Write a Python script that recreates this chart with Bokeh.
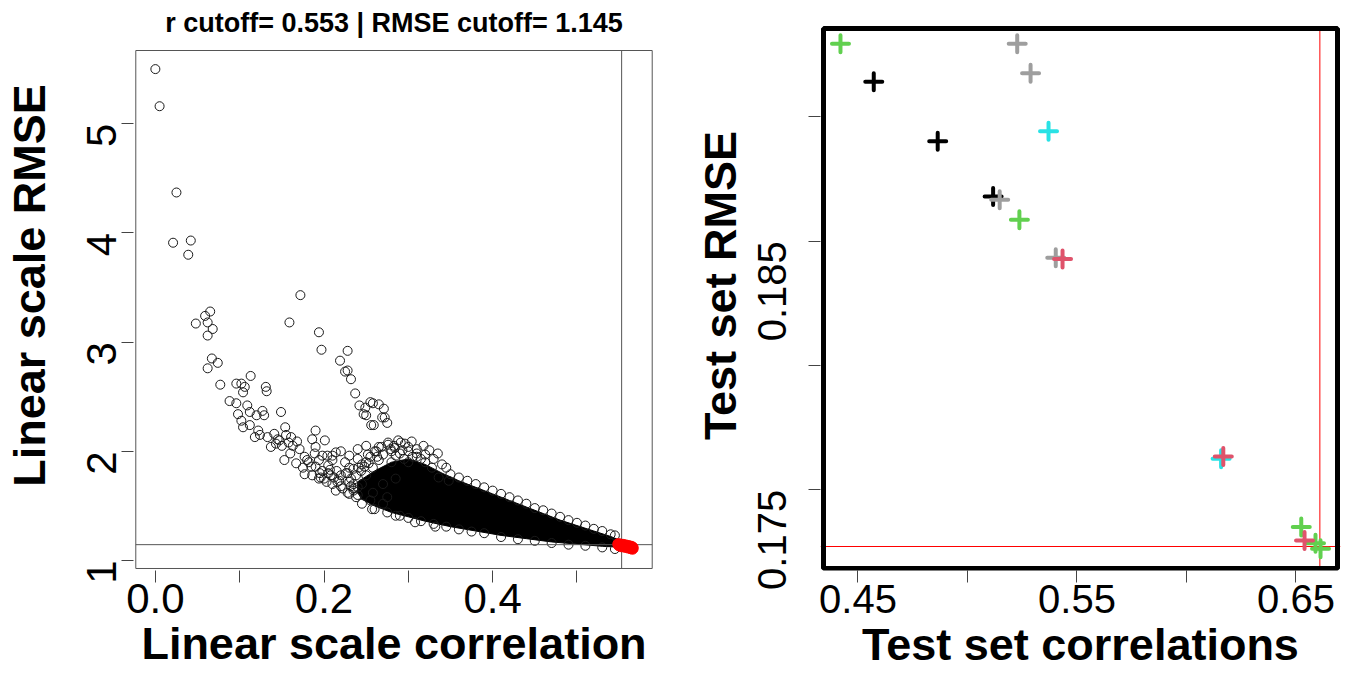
import math
from bokeh.plotting import figure
from bokeh.layouts import row
from bokeh.models import Range1d, FixedTicker, Label, BoxAnnotation
from bokeh.embed import file_html
from bokeh.resources import INLINE

FONT = "Liberation Sans"

# ---------------- Left panel data (linear scale) ----------------
title_text = "r cutoff= 0.553 | RMSE cutoff= 1.145"
r_cutoff = 0.553
rmse_cutoff = 1.145

# individually visible models (correlation, RMSE)
sparse_r = [0.000, 0.005, 0.025, 0.021, 0.042, 0.039,
            0.172, 0.159, 0.194, 0.197,
            0.065, 0.059, 0.048, 0.062, 0.068, 0.062,
            0.067, 0.062, 0.074, 0.077,
            0.228, 0.219, 0.228, 0.225, 0.232, 0.237, 0.242, 0.249, 0.258, 0.265,
            0.250, 0.259, 0.272, 0.275, 0.247, 0.255, 0.271, 0.269, 0.256,
            0.113, 0.096, 0.102, 0.106, 0.104, 0.131, 0.132, 0.088, 0.096, 0.109,
            0.112, 0.098, 0.120, 0.127, 0.129, 0.149, 0.102, 0.104, 0.112, 0.122,
            0.118, 0.124, 0.133, 0.141, 0.147, 0.154, 0.155, 0.161, 0.163, 0.143,
            0.137, 0.171, 0.153, 0.167, 0.190, 0.186, 0.201, 0.190, 0.177, 0.180,
            0.177, 0.186, 0.194, 0.204, 0.214, 0.210, 0.198, 0.230, 0.241, 0.253,
            0.263, 0.265, 0.279, 0.291, 0.300, 0.310, 0.285, 0.293, 0.336, 0.348,
            0.328, 0.145, 0.150, 0.158, 0.168, 0.160,
            0.200, 0.210, 0.220, 0.220, 0.230, 0.235, 0.240, 0.215, 0.205, 0.225,
            0.240, 0.250, 0.258, 0.250, 0.245, 0.258, 0.255, 0.270, 0.275, 0.270,
            0.285, 0.300, 0.315, 0.320, 0.305, 0.295, 0.280, 0.226, 0.212, 0.195,
            0.185, 0.205,
            0.194, 0.214, 0.230, 0.245, 0.257, 0.285, 0.308, 0.332,
            0.270, 0.280, 0.290, 0.300, 0.310, 0.320, 0.330, 0.325, 0.265, 0.255,
            0.245, 0.235, 0.310, 0.340, 0.335, 0.345,
            0.235, 0.235, 0.240, 0.238, 0.232, 0.218, 0.228, 0.207, 0.262, 0.283,
            0.296, 0.304, 0.318, 0.288, 0.276,
            0.175, 0.182, 0.190, 0.196, 0.203, 0.208, 0.216, 0.222, 0.228, 0.232,
            0.238, 0.244, 0.248, 0.252, 0.260, 0.268, 0.276, 0.284, 0.210, 0.220,
            0.230, 0.240, 0.250, 0.198, 0.189]
sparse_rmse = [5.50, 5.16, 4.37, 3.91, 3.93, 3.80,
               3.43, 3.18, 3.09, 2.93,
               3.28, 3.24, 3.17, 3.18, 3.12, 3.06,
               2.85, 2.76, 2.81, 2.61,
               2.92, 2.83, 2.74, 2.73, 2.66, 2.53, 2.42, 2.40, 2.44, 2.43,
               2.33, 2.24, 2.31, 2.26, 2.34, 2.45, 2.39, 2.31, 2.24,
               2.69, 2.62, 2.62, 2.59, 2.54, 2.59, 2.55, 2.46, 2.44, 2.42,
               2.36, 2.34, 2.33, 2.37, 2.33, 2.36, 2.28, 2.22, 2.24, 2.19,
               2.13, 2.15, 2.13, 2.16, 2.10, 2.22, 2.15, 2.13, 2.05, 2.07,
               2.04, 2.02, 1.92, 1.89, 2.19, 2.11, 2.10, 2.04, 1.95, 1.92,
               1.79, 1.78, 1.92, 1.96, 1.99, 1.92, 1.82, 1.85, 1.85, 1.89,
               1.95, 2.04, 2.02, 2.08, 2.04, 1.98, 1.96, 2.01, 1.76, 1.73,
               1.85, 2.11, 2.05, 2.08, 2.09, 1.98,
               1.75, 1.70, 1.78, 1.68, 1.72, 1.66, 1.60, 1.82, 1.87, 1.90,
               1.93, 1.90, 1.85, 1.78, 1.70, 1.62, 1.55, 1.52, 1.58, 1.70,
               1.75, 1.90, 1.93, 1.90, 1.95, 1.93, 1.90, 1.80, 1.76, 1.80,
               1.86, 1.80,
               1.75, 1.64, 1.61, 1.52, 1.47, 1.41, 1.35, 1.31,
               1.97, 2.00, 1.98, 2.00, 2.02, 1.97, 1.93, 2.01, 1.92, 1.95,
               1.88, 1.84, 1.95, 1.88, 1.98, 1.85,
               1.64, 1.70, 1.67, 1.58, 1.75, 1.73, 1.80, 1.83, 2.00, 2.05,
               2.07, 2.09, 2.05, 2.10, 2.06,
               1.85, 1.90, 1.86, 1.76, 1.72, 1.78, 1.72, 1.66, 1.62, 1.68,
               1.78, 1.82, 1.86, 1.97, 2.00, 2.04, 2.08, 2.03, 1.96, 2.00,
               1.96, 2.02, 2.05, 1.96, 1.98]

# models on the rim of the dense band
rim_r = [0.35, 0.37, 0.39, 0.41, 0.43, 0.45, 0.47, 0.49, 0.51, 0.53, 0.545,
         0.36, 0.38, 0.40, 0.42, 0.44, 0.46, 0.48, 0.50, 0.52, 0.54,
         0.26, 0.275, 0.29, 0.30, 0.315, 0.33, 0.345, 0.36, 0.375, 0.39,
         0.41, 0.43, 0.45, 0.47, 0.49, 0.51, 0.53, 0.545]
rim_rmse = [1.79, 1.73, 1.67, 1.61, 1.55, 1.48, 1.43, 1.37, 1.32, 1.27, 1.23,
            1.76, 1.70, 1.64, 1.58, 1.52, 1.46, 1.40, 1.345, 1.29, 1.24,
            1.47, 1.44, 1.41, 1.39, 1.36, 1.335, 1.31, 1.285, 1.265, 1.25,
            1.215, 1.195, 1.18, 1.16, 1.145, 1.135, 1.12, 1.105]

# outline of the saturated (fully overlapping) core of the cloud
core_r = [0.24, 0.26, 0.28, 0.30, 0.32, 0.34, 0.36, 0.38, 0.40, 0.42, 0.44,
          0.46, 0.48, 0.50, 0.52, 0.54, 0.556,
          0.556, 0.53, 0.50, 0.47, 0.44, 0.41, 0.38, 0.35, 0.32, 0.30, 0.28,
          0.26, 0.245, 0.24]
core_rmse = [1.72, 1.82, 1.90, 1.93, 1.88, 1.80, 1.73, 1.67, 1.61, 1.55, 1.49,
             1.43, 1.37, 1.32, 1.27, 1.22, 1.17,
             1.12, 1.13, 1.15, 1.17, 1.20, 1.23, 1.27, 1.31, 1.36, 1.40, 1.44,
             1.50, 1.56, 1.62]

# selected models (red)
best_r = [0.549, 0.552, 0.555, 0.558, 0.561, 0.564, 0.566, 0.553, 0.557,
          0.561, 0.564, 0.550, 0.566]
best_rmse = [1.150, 1.146, 1.143, 1.138, 1.133, 1.127, 1.120, 1.130, 1.125,
             1.118, 1.112, 1.138, 1.108]

# axis limits (frame) and plot box limits
left_xlim = (-0.02594, 0.59198)
left_ylim = (0.90842, 6.1282)
left_box = dict(left=-0.02323, right=0.58927, bottom=0.92674, top=5.6703)
left_xticks = [0.0, 0.1, 0.2, 0.3, 0.4, 0.5]
left_xlabels = ["0.0", "", "0.2", "", "0.4", ""]
left_yticks = [1, 2, 3, 4, 5]
left_ylabels = ["1", "2", "3", "4", "5"]
title_y = 5.9267

# ---------------- Right panel data (test set) ----------------
black_r = [0.4572, 0.4864, 0.5117]
black_rmse = [0.19141, 0.18902, 0.18680]
grey_r = [0.5227, 0.5288, 0.5147, 0.5403]
grey_rmse = [0.19294, 0.19176, 0.18667, 0.18433]
cyan_r = [0.5370, 0.6158]
cyan_rmse = [0.18942, 0.17625]
green_r = [0.4420, 0.5237, 0.6524, 0.6589, 0.6612]
green_rmse = [0.19294, 0.18586, 0.17350, 0.17285, 0.17263]
red_r = [0.5434, 0.6168, 0.6539]
red_rmse = [0.18428, 0.17634, 0.17296]
best_test_r = 0.6609
best_test_rmse = 0.17270

right_xlim = (0.43288, 0.67032)
right_ylim = (0.171754, 0.194682)
right_box = dict(left=0.43425, right=0.66895, bottom=0.171834, top=0.193556)
right_xticks = [0.45, 0.50, 0.55, 0.60, 0.65]
right_xlabels = ["0.45", "", "0.55", "", "0.65"]
right_yticks = [0.175, 0.180, 0.185, 0.190]
right_ylabels = ["0.175", "", "0.185", ""]


def style(p, xt, xl, yt, yl, tick_size, xl_standoff, yl_standoff,
          xax_standoff, yax_standoff):
    p.grid.visible = False
    p.outline_line_color = None
    p.background_fill_color = "white"
    p.border_fill_color = "white"
    for ax, ticks, labels, std, astd in ((p.xaxis[0], xt, xl, xl_standoff, xax_standoff),
                                          (p.yaxis[0], yt, yl, yl_standoff, yax_standoff)):
        ax.ticker = FixedTicker(ticks=ticks)
        ax.major_label_overrides = {t: s for t, s in zip(ticks, labels)}
        ax.minor_tick_line_color = None
        ax.major_tick_in = 0
        ax.major_tick_out = 12
        ax.major_tick_line_color = "#444444"
        ax.major_tick_line_width = 1
        ax.axis_line_color = None
        ax.major_label_text_font = FONT
        ax.major_label_text_font_size = f"{tick_size}px"
        ax.major_label_text_color = "black"
        ax.major_label_standoff = std
        ax.axis_label_text_font = FONT
        ax.axis_label_text_font_style = "bold"
        ax.axis_label_text_font_size = "45px"
        ax.axis_label_text_color = "black"
        ax.axis_label_standoff = astd
    p.yaxis[0].major_label_orientation = math.pi / 2


# ---------------- Left figure ----------------
p1 = figure(width=680, height=673, title=None,
            x_range=Range1d(*left_xlim), y_range=Range1d(*left_ylim),
            output_backend="svg", toolbar_location=None,
            min_border_left=130, min_border_right=26,
            min_border_top=0, min_border_bottom=103,
            x_axis_label="Linear scale correlation",
            y_axis_label="Linear scale RMSE")
style(p1, left_xticks, left_xlabels, left_yticks, left_ylabels, 42, 1, 20, 2, 15)

p1.add_layout(BoxAnnotation(**left_box, fill_alpha=0, line_color="#555555",
                            line_alpha=1, line_width=1, level="underlay"))

p1.patch(core_r, core_rmse, fill_color="black", line_color="black", line_width=1)
p1.scatter(sparse_r, sparse_rmse, marker="circle", size=9, fill_color=None,
           line_color="#1a1a1a", line_width=1)
p1.scatter(rim_r, rim_rmse, marker="circle", size=9, fill_color=None,
           line_color="#1a1a1a", line_width=1)
p1.segment(x0=[r_cutoff], y0=[left_box["bottom"]], x1=[r_cutoff], y1=[left_box["top"]],
           line_color="#555555", line_width=1)
p1.segment(x0=[left_box["left"]], y0=[rmse_cutoff], x1=[left_box["right"]], y1=[rmse_cutoff],
           line_color="#555555", line_width=1)
p1.scatter(best_r, best_rmse, marker="circle", size=11, fill_color="#FF0000",
           line_color="#FF0000", line_width=1)

p1.add_layout(Label(x=(left_box["left"] + left_box["right"]) / 2, y=title_y,
                    text=title_text, text_align="center", text_baseline="middle",
                    text_font=FONT, text_font_style="bold", text_font_size="27px",
                    text_color="black"))

# ---------------- Right figure ----------------
p2 = figure(width=667, height=673, title=None,
            x_range=Range1d(*right_xlim), y_range=Range1d(*right_ylim),
            output_backend="svg", toolbar_location=None,
            min_border_left=140, min_border_right=7,
            min_border_top=0, min_border_bottom=103,
            x_axis_label="Test set correlations",
            y_axis_label="Test set RMSE")
style(p2, right_xticks, right_xlabels, right_yticks, right_ylabels, 40, 2, 36, 3, -4)

p2.segment(x0=[best_test_r], y0=[right_box["bottom"]], x1=[best_test_r], y1=[right_box["top"]],
           line_color="#FF0000", line_width=1)
p2.hspan(y=[best_test_rmse], line_color="#FF0000", line_width=1.2)

for xs, ys, col in ((black_r, black_rmse, "#000000"),
                    (grey_r, grey_rmse, "#9E9E9E"),
                    (cyan_r, cyan_rmse, "#28E2E5"),
                    (green_r, green_rmse, "#61D04F"),
                    (red_r, red_rmse, "#DF536B")):
    p2.scatter(xs, ys, marker="cross", size=17, line_width=4, line_color=col,
               line_cap="round")

p2.add_layout(BoxAnnotation(**right_box, fill_alpha=0, line_color="black",
                            line_alpha=1, line_width=5))

layout = row(p1, p2)
open("out.html", "w").write(file_html(layout, INLINE))
